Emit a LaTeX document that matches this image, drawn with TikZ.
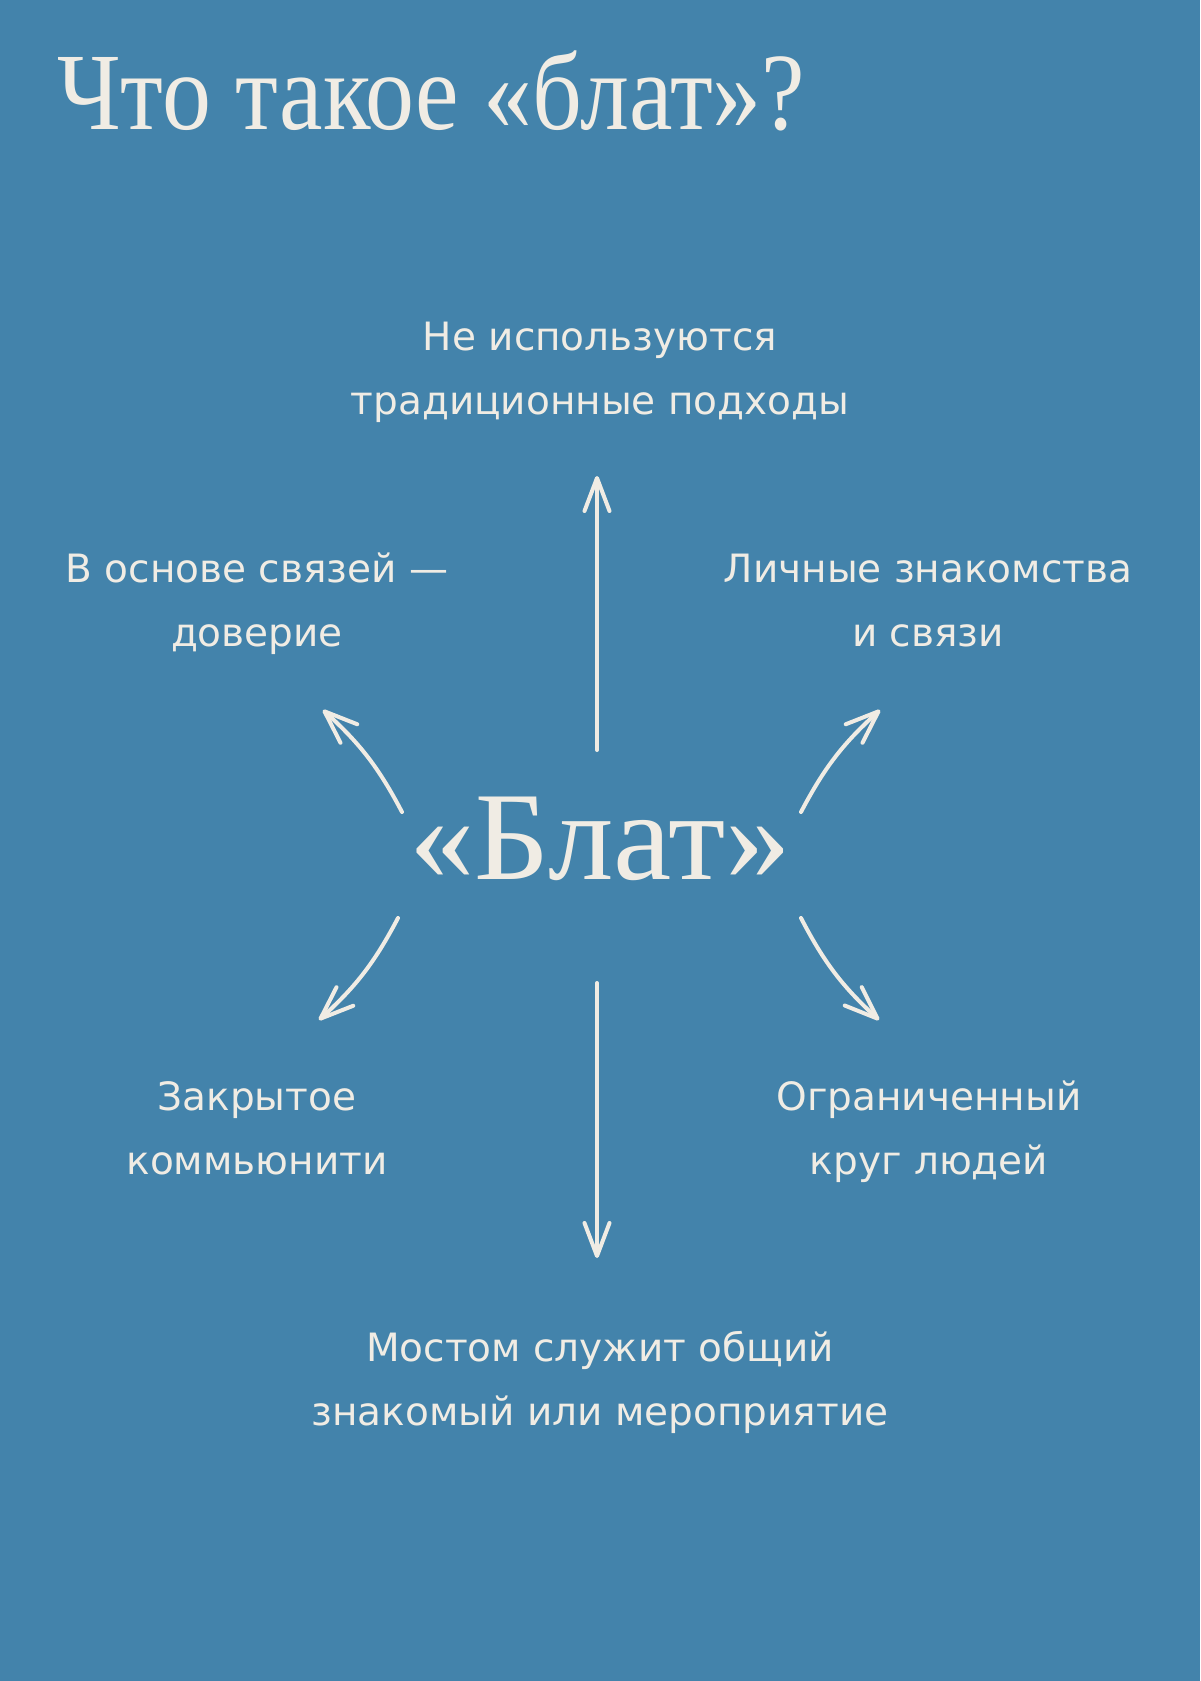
\documentclass[tikz,border=0pt]{standalone}
\usepackage{fontspec}
\usepackage{graphicx}
\setmainfont{Liberation Serif}
\newfontfamily\labelfont{DejaVu Sans}
\usetikzlibrary{arrows.meta}
\definecolor{bgblue}{RGB}{67,131,171}
\definecolor{chalk}{RGB}{240,236,228}

\begin{document}
\begin{tikzpicture}[x=1pt, y=-1pt,
	lbl/.style={text=chalk, align=center, inner sep=0pt, font=\labelfont\fontsize{39}{63.5}\selectfont},
	arr/.style={draw=chalk, line width=4pt, line cap=round, line join=round, -{Straight Barb[length=33pt, width=25pt, line cap=round, line join=round]}}]

	\fill[bgblue] (0,0) rectangle (1200,1681);

	% title
	\node[text=chalk, anchor=base west, inner sep=0pt] (title) at (57,129) {\fontsize{110}{110}\selectfont\scalebox{0.89}[1]{Что такое «блат»?}};

	% centre word
	\node[text=chalk, anchor=base, inner sep=0pt] (blat) at (600,879) {\fontsize{126}{126}\selectfont\scalebox{1.04}[1]{«Блат»}};

	\node[lbl] (trad)	at (600, 370)	{\strut Не используются\\традиционные подходы\strut};
	\node[lbl] (trust)	at (257, 602)	{\strut В основе связей —\\доверие\strut};
	\node[lbl] (links)	at (928, 602)	{\strut Личные знакомства\\и связи\strut};
	\node[lbl] (closed)	at (257, 1130)	{\strut Закрытое\\коммьюнити\strut};
	\node[lbl] (circle)	at (929, 1130)	{\strut Ограниченный\\круг людей\strut};
	\node[lbl] (bridge)	at (600, 1381)	{\strut Мостом служит общий\\знакомый или мероприятие\strut};

	% arrow ends
	\coordinate (tradS)	at (597, 750);
	\coordinate (tradE)	at (597, 476);
	\coordinate (bridgeS)	at (597, 983);
	\coordinate (bridgeE)	at (597, 1258);
	\coordinate (trustS)	at (402, 812);
	\coordinate (trustE)	at (323, 710);
	\coordinate (linksS)	at (801, 812);
	\coordinate (linksE)	at (880, 710);
	\coordinate (closedS)	at (398, 918);
	\coordinate (closedE)	at (319, 1020);
	\coordinate (circleS)	at (801, 918);
	\coordinate (circleE)	at (879, 1020);

	\draw[arr] (tradS) -- (tradE);
	\draw[arr] (bridgeS) -- (bridgeE);

	% curved ones
	\draw[arr] (trustS) to[bend right=10] (trustE);
	\draw[arr] (linksS) to[bend left=10] (linksE);
	\draw[arr] (closedS) to[bend left=10] (closedE);
	\draw[arr] (circleS) to[bend right=10] (circleE);

\end{tikzpicture}
\end{document}
